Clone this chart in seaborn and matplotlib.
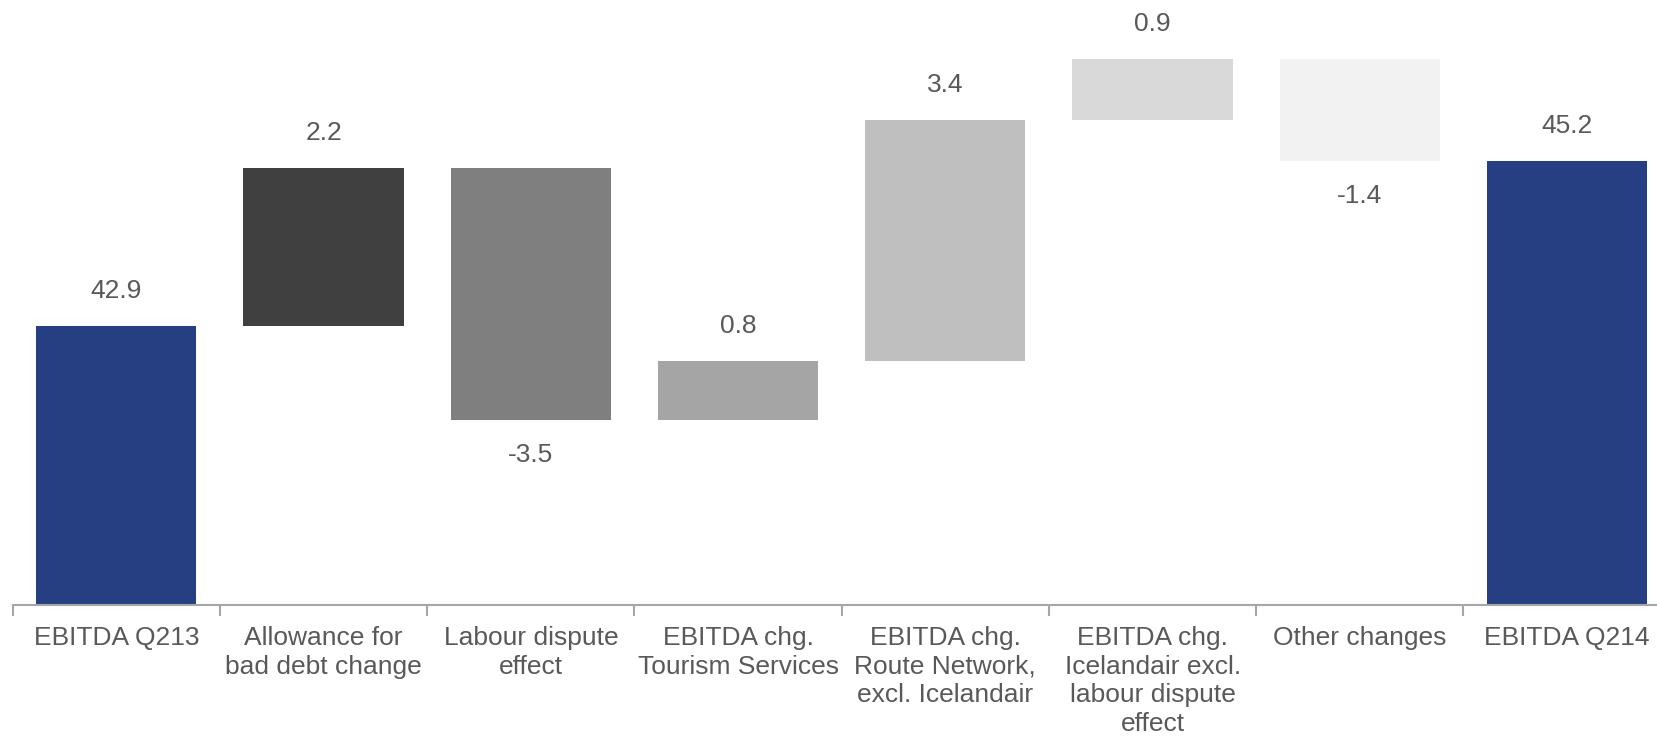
import matplotlib
matplotlib.use("Agg")
import matplotlib.pyplot as plt
import seaborn as sns
import numpy as np
from matplotlib.ticker import FixedLocator

categories = ["EBITDA Q213", "Allowance for\nbad debt change", "Labour dispute\neffect",
              "EBITDA chg.\nTourism Services", "EBITDA chg.\nRoute Network,\nexcl. Icelandair",
              "EBITDA chg.\nIcelandair excl.\nlabour dispute\neffect", "Other changes", "EBITDA Q214"]
values = [42.9, 2.2, -3.52, 0.83, 3.37, 0.85, -1.43, 45.2]
is_total = [True, False, False, False, False, False, False, True]
labels = ["42.9", "2.2", "-3.5", "0.8", "3.4", "0.9", "-1.4", "45.2"]
colors = ["#253F82", "#404040", "#7F7F7F", "#A5A5A5", "#BFBFBF", "#D9D9D9", "#F2F2F2", "#253F82"]

# waterfall geometry
bottoms, tops = [], []
run = 0.0
for v, t in zip(values, is_total):
    if t:
        bottoms.append(0.0); tops.append(v); run = v
    else:
        lo, hi = sorted([run, run + v])
        bottoms.append(lo); tops.append(hi); run += v

sns.set_theme(style="white")
plt.rcParams['font.family'] = ['Liberation Sans', 'DejaVu Sans']
text_color = "#595959"
fs = 19.0

fig = plt.figure(figsize=(16.58, 7.40), dpi=100)
ax = fig.add_axes([12.7 / 1658, 135 / 740, 1.0, 605 / 740])

xs = list(range(len(categories)))
sns.barplot(x=xs, y=tops, hue=xs, palette=colors, legend=False, width=0.773,
            linewidth=0, saturation=1, ax=ax)
for p, b, t in zip(ax.patches, bottoms, tops):
    p.set_y(b)
    p.set_height(t - b)

ax.set_ylim(39, 47.45)
ax.set_xlim(-0.5, len(categories) - 0.5)

for i, (v, t, b, tp, lab) in enumerate(zip(values, is_total, bottoms, tops, labels)):
    if t or v >= 0:
        ax.annotate(lab, (i, tp), xytext=(0, 35), textcoords="offset pixels",
                    ha="center", va="center", fontsize=fs, color=text_color)
    else:
        ax.annotate(lab, (i, b), xytext=(0, -35), textcoords="offset pixels",
                    ha="center", va="center", fontsize=fs, color=text_color)

for s in ["top", "right", "left"]:
    ax.spines[s].set_visible(False)
ax.spines["bottom"].set_color("#A6A6A6")
ax.spines["bottom"].set_linewidth(1.5)
ax.set_yticks([])
ax.set_ylabel("")

ax.xaxis.set_major_locator(FixedLocator(xs))
ax.set_xticklabels(categories, fontsize=fs, color=text_color, linespacing=1.25)
ax.xaxis.set_minor_locator(FixedLocator([x - 0.5 for x in xs] + [len(xs) - 0.5]))
ax.tick_params(axis="x", which="major", length=0, pad=15)
ax.tick_params(axis="x", which="minor", length=8, width=1.5, color="#A6A6A6", bottom=True)

fig.savefig("out.png", dpi=100)
